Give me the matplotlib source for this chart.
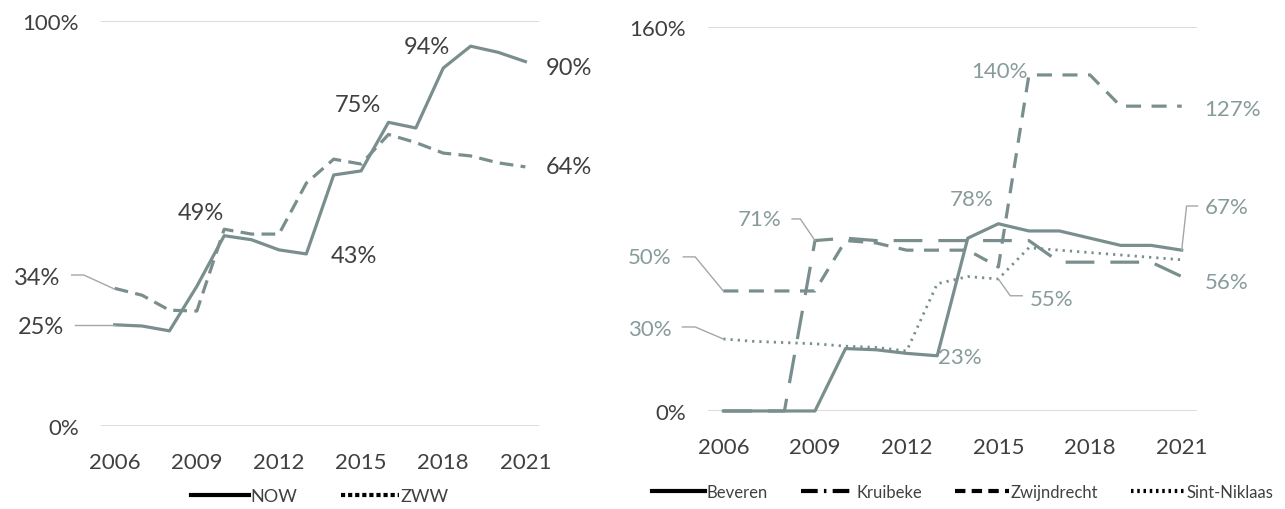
import matplotlib
matplotlib.use("Agg")
import matplotlib.pyplot as plt
from matplotlib.lines import Line2D

plt.rcParams['font.family'] = ['Lato', 'DejaVu Sans']

jaren = list(range(2006, 2022))
jaar_ticks = [2006, 2009, 2012, 2015, 2018, 2021]

# links: NOW / ZWW
now = [25, 24.7, 23.5, 34.5, 47, 46, 43.5, 42.5, 62, 63, 75, 73.6, 88.4, 93.8, 92.3, 90]
zww = [34, 32.3, 28.6, 28.4, 48.6, 47.4, 47.4, 60, 65.9, 64.7, 72, 70, 67.4, 66.7, 65, 64]

# rechts: gemeenten
beveren = [0, 0, 0, 0, 26, 25.5, 24, 23, 72, 78, 75, 75, 72, 69, 69, 67]
kruibeke = [0, 0, 0, 71, 72, 71, 71, 71, 71, 71, 71, 62, 62, 62, 62, 56]
zwijndrecht = [50, 50, 50, 50, 71, 70, 67, 67, 67, 60, 140, 140, 140, 127, 127, 127]
sint_niklaas = [30, 29, 28.5, 28, 27, 26.5, 25, 53, 56, 55, 68, 67, 66, 65, 64, 63]

LIJN = '#7a8e8e'
LABEL_R = '#879b9b'
DONKER = '#404040'
LEIDER = '#a6a6a6'
GRID = '#d9d9d9'

fig = plt.figure(figsize=(12.85, 5.10), dpi=100)

def opmaak(ax, ymax):
    for s in ax.spines.values():
        s.set_visible(False)
    ax.set_xlim(2005.5, 2021.5)
    ax.set_ylim(0, ymax)
    ax.set_yticks([0, ymax])
    ax.set_yticklabels(['0%', '%d%%' % ymax])
    ax.set_xticks(jaar_ticks)
    ax.set_xticklabels([str(j) for j in jaar_ticks])
    ax.tick_params(length=0, labelsize=16, colors=DONKER)
    ax.tick_params(axis='y', pad=16)
    ax.tick_params(axis='x', pad=19)
    ax.axhline(0, color=GRID, lw=1.3, zorder=0)
    ax.axhline(ymax, color=GRID, lw=1.3, zorder=0)

# ---- links
ax1 = fig.add_axes([0.0786, 0.1627, 0.3409, 0.794])
opmaak(ax1, 100)
ax1.plot(jaren, now, color=LIJN, lw=2.3, clip_on=False)
ax1.plot(jaren, zww, color=LIJN, lw=2.3, ls=(0, (4.3, 2.3)), clip_on=False)

ax1.plot([2004.54, 2006], [25, 25], color=LEIDER, lw=1, clip_on=False)
ax1.plot([2004.43, 2004.87, 2006], [37.3, 37.3, 33.8], color=LEIDER, lw=1, clip_on=False)
lab_l = dict(fontsize=17, color=DONKER, va='center')
ax1.text(2004.17, 24.7, '25%', ha='right', **lab_l)
ax1.text(2004.0, 36.8, '34%', ha='right', **lab_l)
ax1.text(2009.15, 52.8, '49%', ha='center', **lab_l)
ax1.text(2014.75, 42, '43%', ha='center', **lab_l)
ax1.text(2014.9, 79.5, '75%', ha='center', **lab_l)
ax1.text(2017.4, 93.8, '94%', ha='center', **lab_l)
ax1.text(2021.73, 88.6, '90%', ha='left', **lab_l)
ax1.text(2021.73, 64, '64%', ha='left', **lab_l)

h1 = [Line2D([], [], color='black', lw=3),
      Line2D([], [], color='black', lw=3, ls=(0, (1, 0.7)))]
ax1.legend(h1, ['NOW', 'ZWW'], loc='center', bbox_to_anchor=(0.5, -0.173),
           ncol=2, frameon=False, fontsize=13, labelcolor=DONKER,
           handlelength=3.2, handletextpad=0.1, columnspacing=2.4)

# ---- rechts
ax2 = fig.add_axes([0.551, 0.1922, 0.3805, 0.753])
opmaak(ax2, 160)
ax2.plot(jaren, beveren, color=LIJN, lw=2.3, clip_on=False)
ax2.plot(jaren, kruibeke, color=LIJN, lw=2.3, ls=(0, (9, 5)), clip_on=False)
ax2.plot(jaren, zwijndrecht, color=LIJN, lw=2.3, ls=(0, (4.7, 3.3)), clip_on=False)
ax2.plot(jaren, sint_niklaas, color=LIJN, lw=2, ls=(0, (0.8, 1.8)), clip_on=False)

ax2.plot([2008.25, 2008.52, 2009], [80, 80, 71], color=LEIDER, lw=1, clip_on=False)
ax2.plot([2004.69, 2005.08, 2006], [64.2, 64.2, 50], color=LEIDER, lw=1, clip_on=False)
ax2.plot([2004.66, 2005.08, 2006], [35, 35, 30], color=LEIDER, lw=1, clip_on=False)
ax2.plot([2021, 2021.16, 2021.52], [67, 85.4, 85.4], color=LEIDER, lw=1, clip_on=False)
ax2.plot([2015, 2015.39, 2015.78], [55, 48, 48], color=LEIDER, lw=1, clip_on=False)
lab_r = dict(fontsize=16, color=LABEL_R, va='center')
ax2.text(2007.18, 80, '71%', ha='center', **lab_r)
ax2.text(2003.6, 64.2, '50%', ha='center', **lab_r)
ax2.text(2003.6, 34.2, '30%', ha='center', **lab_r)
ax2.text(2014.14, 88.3, '78%', ha='center', **lab_r)
ax2.text(2015.95, 141.5, '140%', ha='right', **lab_r)
ax2.text(2021.75, 125.8, '127%', ha='left', **lab_r)
ax2.text(2021.75, 85, '67%', ha='left', **lab_r)
ax2.text(2021.75, 53.7, '56%', ha='left', **lab_r)
ax2.text(2016.03, 46.7, '55%', ha='left', **lab_r)
ax2.text(2013.75, 22.5, '23%', ha='center', **lab_r)

h2 = [Line2D([], [], color='black', lw=3),
      Line2D([], [], color='black', lw=3, ls=(0, (4, 1.5, 0.6, 1.5))),
      Line2D([], [], color='black', lw=3, ls=(0, (2.5, 1.5))),
      Line2D([], [], color='black', lw=3, ls=(0, (0.6, 0.9)))]
ax2.legend(h2, ['Beveren', 'Kruibeke', 'Zwijndrecht', 'Sint-Niklaas'],
           loc='center', bbox_to_anchor=(0.52, -0.21), ncol=4, frameon=False,
           fontsize=12, labelcolor=DONKER, handlelength=3.2,
           handletextpad=0.1, columnspacing=2.0)

fig.savefig('out.png', dpi=100)
